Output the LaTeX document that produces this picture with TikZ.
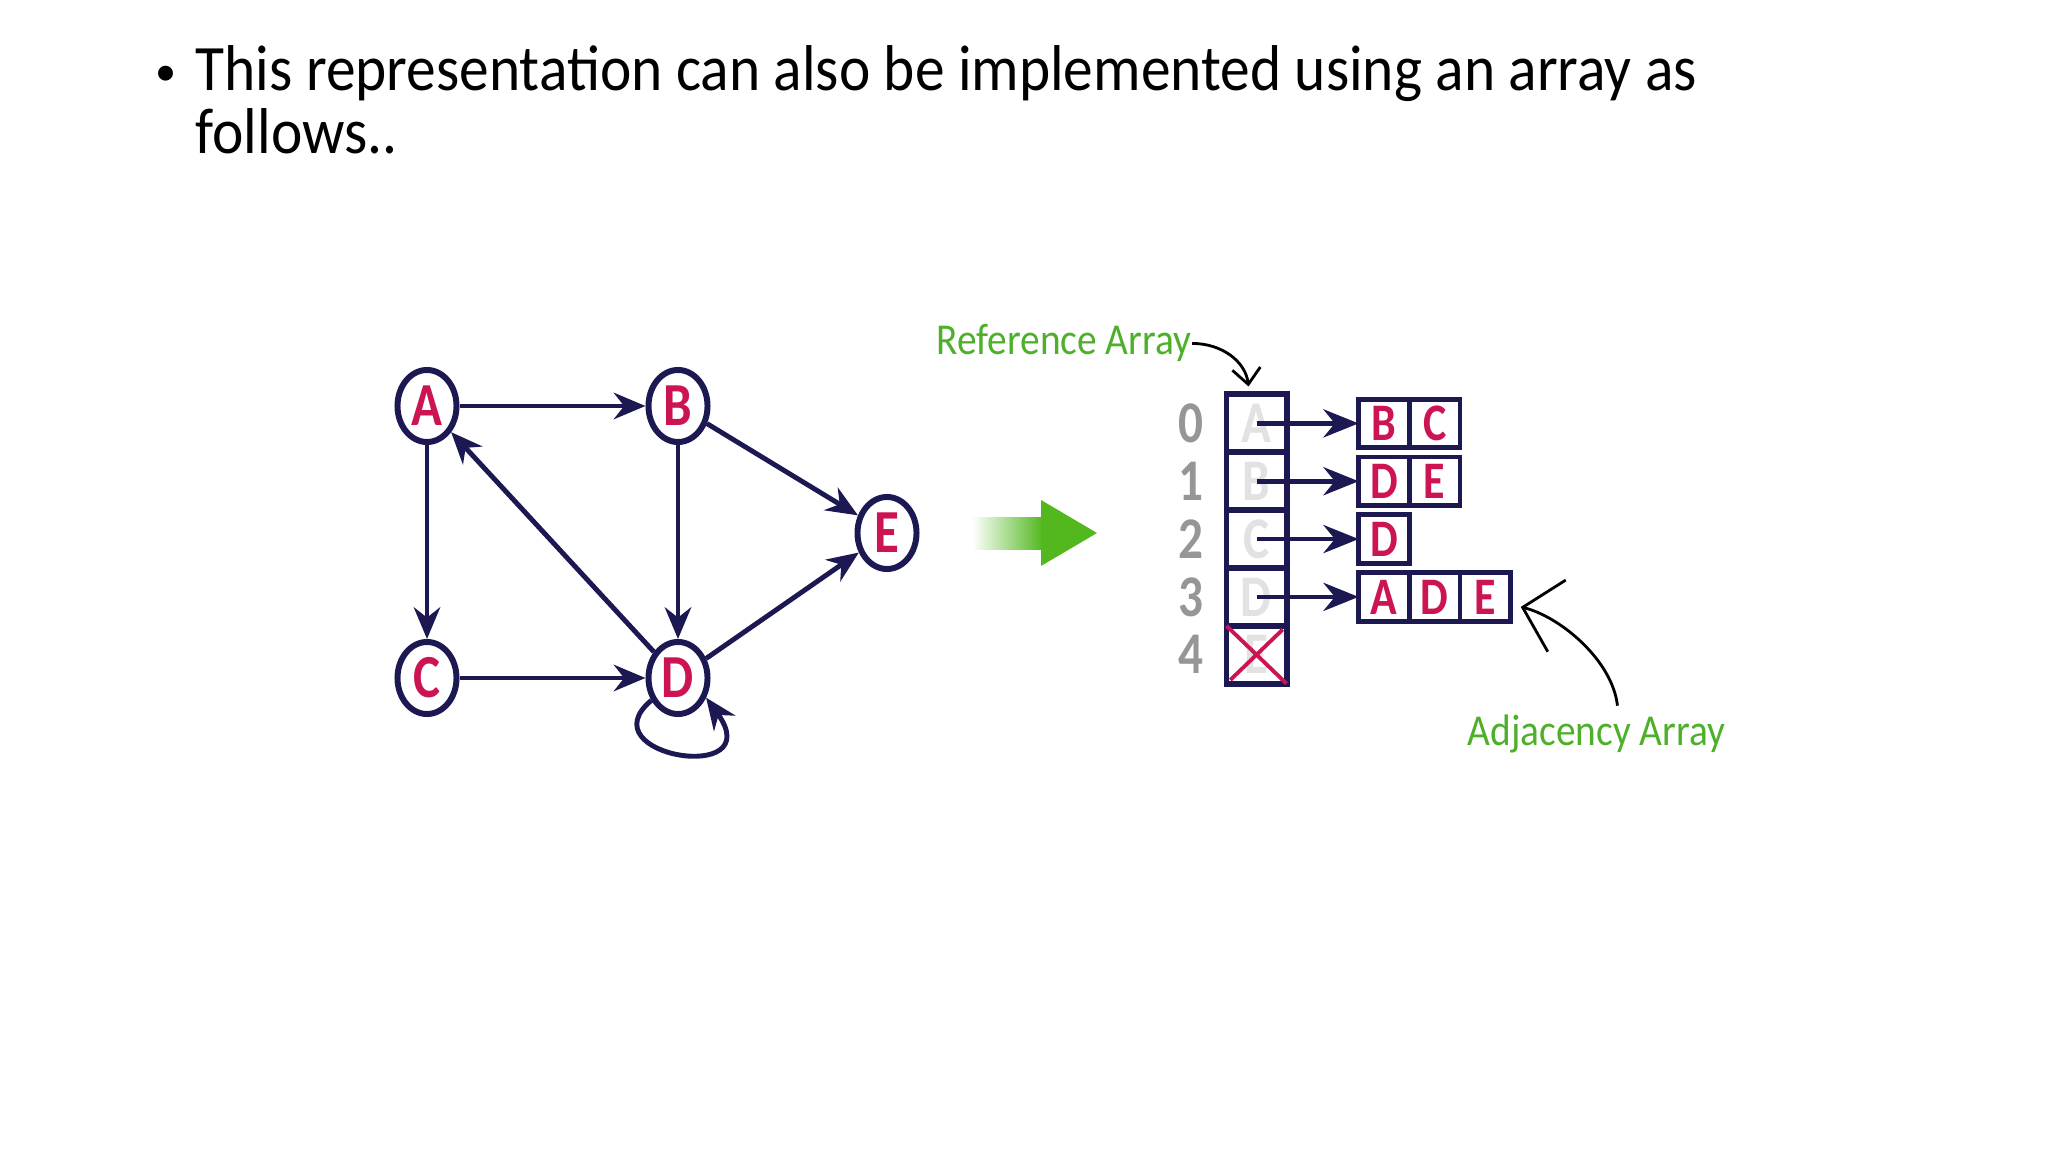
\documentclass[tikz,border=0pt]{standalone}
\usepackage{xcolor}
\usepackage{graphicx}
\usepackage{fontspec}
\setmainfont{Carlito}
\usepackage{tikz}
\usetikzlibrary{shapes,positioning}
\usetikzlibrary{calc}
\usetikzlibrary{arrows.meta}

\definecolor{navy}{RGB}{27,24,82}
\definecolor{crimson}{RGB}{205,20,82}
\definecolor{leafgreen}{RGB}{78,176,42}
\definecolor{arrowgreen}{RGB}{82,184,30}
\definecolor{digitgray}{RGB}{150,150,150}
\definecolor{ghostgray}{RGB}{226,226,226}

\newcommand{\stretched}[2]{\scalebox{1}[#1]{#2}}

\tikzset{
	vertex/.style={ellipse,draw=navy,line width=1.7pt,minimum width=0.59cm,minimum height=0.72cm,inner sep=0pt,text=crimson,font=\fontsize{14.5}{14}\selectfont\bfseries},
	edge/.style={navy,line width=1.4pt,-{Stealth[length=9pt,width=7.5pt]}},
	refcell/.style={draw=navy,line width=1.7pt,minimum width=0.6cm,minimum height=0.578cm,inner sep=0pt,outer sep=0pt,text=ghostgray,font=\fontsize{14}{14}\selectfont\bfseries},
	adjcell/.style={draw=navy,line width=1.4pt,minimum width=0.507cm,minimum height=0.485cm,inner sep=0pt,outer sep=0pt,text=crimson,font=\fontsize{12.5}{12}\selectfont\bfseries},
	index/.style={text=digitgray,inner sep=0pt,font=\fontsize{14}{14}\selectfont\bfseries},
	pointer/.style={navy,line width=1.3pt,-{Stealth[length=10pt,width=8pt]}},
	remark/.style={text=leafgreen,inner sep=0pt,font=\fontsize{11.2}{12}\selectfont},
	hand/.style={black,line width=0.8pt},
	titletext/.style={anchor=base west,inner sep=0pt,font=\fontsize{16.9}{18}\selectfont}
}

\begin{document}
\begin{tikzpicture}[x=0.01cm,y=-0.01cm]
\useasboundingbox (0,0) rectangle (2048,1152); % whole slide, in pixels

%Titre
\node[anchor=base,inner sep=0pt,font=\fontsize{12}{12}\selectfont] (bullet) at (166,86) {•};
\node[titletext] (line1) at (195,91) {\stretched{1.09}{This representation can also be implemented using an array as}};
\node[titletext] (line2) at (195,154) {\stretched{1.09}{follows..}};

%Sommets du graphe
\node[vertex] (A) at (427,406) {\stretched{1.2}{A}};
\node[vertex] (B) at (678,406) {\stretched{1.2}{B}};
\node[vertex] (C) at (427,678) {\stretched{1.2}{C}};
\node[vertex] (D) at (678,678) {\stretched{1.2}{D}};
\node[vertex] (E) at (887,533) {\stretched{1.2}{E}};

%Aretes
\draw[edge] (A) -- (B);
\draw[edge] (A) -- (C);
\draw[edge] (D) -- (A);
\draw[edge] (B) -- (D);
\draw[edge] (B) -- (E);
\draw[edge] (C) -- (D);
\draw[edge] (D) -- (E);
\draw[edge] (D.220) .. controls ($(D)+(-93,78)$) and ($(D)+(92,108)$) .. (D.-35);

%Fleche verte
\shade[left color=white,right color=arrowgreen] (972,518) rectangle (1043,550);
\fill[arrowgreen] (1041,500) -- (1097,533) -- (1041,566) -- cycle;

%Tableau de reference
\node[refcell] (r0) at (1256.5,423.4) {\stretched{1.2}{A}};
\node[refcell,below=0cm of r0] (r1) {\stretched{1.2}{B}};
\node[refcell,below=0cm of r1] (r2) {\stretched{1.2}{C}};
\node[refcell,below=0cm of r2] (r3) {\stretched{1.2}{D}};
\node[refcell,below=0cm of r3] (r4) {\stretched{1.2}{E}};
\draw[crimson,line width=1.1pt,shorten <=1.5pt,shorten >=1.5pt] (r4.north west) -- (r4.south east) (r4.south west) -- (r4.north east);

\node[index,left=0.22cm of r0] (n0) {\stretched{1.2}{0}};
\node[index,left=0.22cm of r1] (n1) {\stretched{1.2}{1}};
\node[index,left=0.22cm of r2] (n2) {\stretched{1.2}{2}};
\node[index,left=0.22cm of r3] (n3) {\stretched{1.2}{3}};
\node[index,left=0.22cm of r4] (n4) {\stretched{1.2}{4}};

%Listes d'adjacence
\node[adjcell,right=0.72cm of r0] (l0a) {\stretched{1.2}{B}};
\node[adjcell,right=0cm of l0a] (l0b) {\stretched{1.2}{C}};
\node[adjcell,right=0.72cm of r1] (l1a) {\stretched{1.2}{D}};
\node[adjcell,right=0cm of l1a] (l1b) {\stretched{1.2}{E}};
\node[adjcell,right=0.72cm of r2] (l2a) {\stretched{1.2}{D}};
\node[adjcell,right=0.72cm of r3] (l3a) {\stretched{1.2}{A}};
\node[adjcell,right=0cm of l3a] (l3b) {\stretched{1.2}{D}};
\node[adjcell,right=0cm of l3b] (l3c) {\stretched{1.2}{E}};

\draw[pointer] (r0.center) -- (l0a.west);
\draw[pointer] (r1.center) -- (l1a.west);
\draw[pointer] (r2.center) -- (l2a.west);
\draw[pointer] (r3.center) -- (l3a.west);

%Legendes
\node[remark,anchor=base west] (reflbl) at (936,355) {\stretched{1.12}{Reference Array}};
\node[remark,anchor=base west] (adjlbl) at (1467,745) {\stretched{1.12}{Adjacency Array}};

\coordinate (reftip) at ($(r0.north)+(-8,-8)$);
\draw[hand,-{Straight Barb[length=4.5pt,width=8pt]}] (reflbl.east) .. controls ($(reflbl.east)+(30,0)$) and ($(reftip)+(-3,-25)$) .. (reftip);

\coordinate (adjtip) at ($(l3c.east)+(10,10)$);
\coordinate (adjfoot) at ($(adjlbl.north)+(21,-8)$);
\draw[hand,-{Straight Barb[length=10pt,width=21pt]}] (adjfoot) .. controls ($(adjfoot)+(-5,-45)$) and ($(adjtip)+(40,10)$) .. (adjtip);

\end{tikzpicture}
\end{document}
